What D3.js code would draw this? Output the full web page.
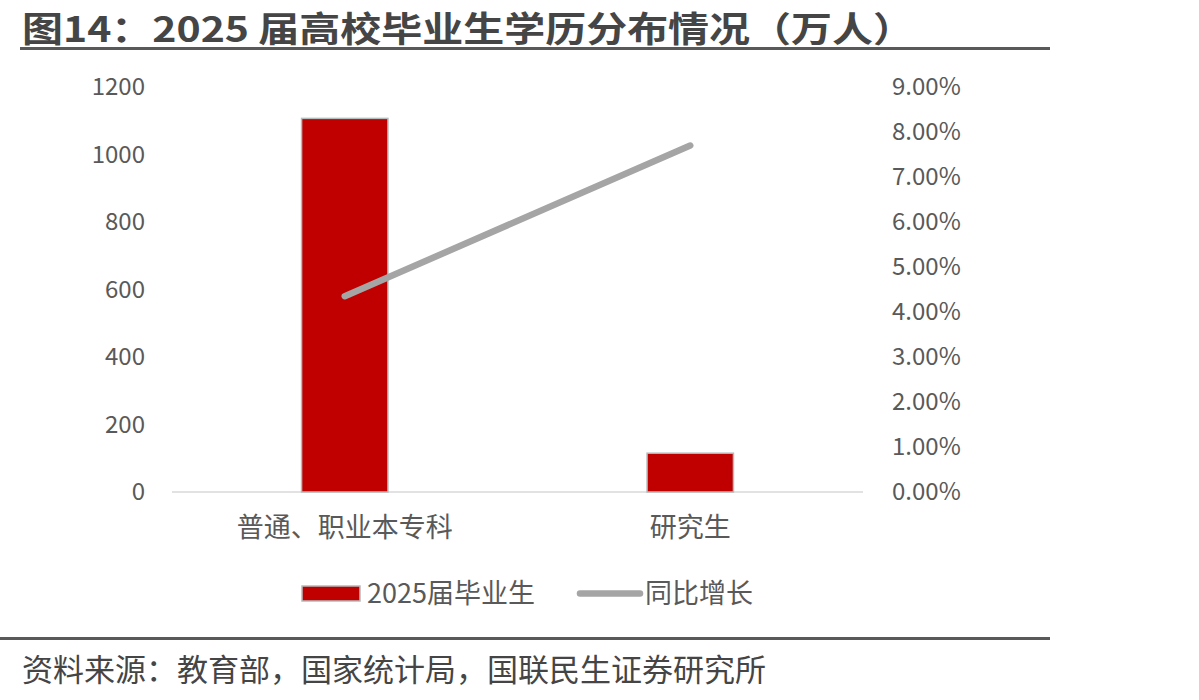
<!DOCTYPE html>
<html>
<head>
<meta charset="utf-8">
<script src="https://cdn.jsdelivr.net/npm/d3@7"></script>
<style>
  body { margin: 0; background: #fff; }
  svg { display: block; font-family: "Noto Sans CJK SC", "Noto Sans", sans-serif; }
</style>
</head>
<body>
<svg id="chart" width="1199" height="700"></svg>
<script>
const categories = ['普通、职业本专科', '研究生'];
const graduates = [1107, 115];
const growth = [0.0435, 0.077];
const leftTicks = [0, 200, 400, 600, 800, 1000, 1200];
const rightTicks = [0, 0.01, 0.02, 0.03, 0.04, 0.05, 0.06, 0.07, 0.08, 0.09];
const barName = '2025届毕业生';
const lineName = '同比增长';
const title = '图14：2025 届高校毕业生学历分布情况（万人）';
const source = '资料来源：教育部，国家统计局，国联民生证券研究所';

const svg = d3.select('#chart');
const textColor = '#595959';

// title + rules
svg.append('text')
  .attr('x', 22).attr('y', 42)
  .attr('font-size', 35).attr('font-weight', 'bold')
  .attr('fill', '#454545')
  .attr('textLength', 892)
  .attr('lengthAdjust', 'spacingAndGlyphs')
  .text(title);

svg.append('line')
  .attr('x1', 20).attr('x2', 1050).attr('y1', 48.5).attr('y2', 48.5)
  .attr('stroke', '#595959').attr('stroke-width', 3);

svg.append('line')
  .attr('x1', 0).attr('x2', 1050).attr('y1', 638.5).attr('y2', 638.5)
  .attr('stroke', '#595959').attr('stroke-width', 3);

svg.append('text')
  .attr('x', 22).attr('y', 681)
  .attr('font-size', 31).attr('fill', '#454545')
  .text(source);

// scales
const x = d3.scaleBand()
  .domain(categories)
  .range([172, 863])
  .paddingInner(0.75)
  .paddingOuter(0.375);

const yL = d3.scaleLinear().domain([0, 1200]).range([492, 87]);
const yR = d3.scaleLinear().domain([0, 0.09]).range([492, 87]);

// baseline
svg.append('line')
  .attr('x1', 172).attr('x2', 863)
  .attr('y1', yL(0)).attr('y2', yL(0))
  .attr('stroke', '#d9d9d9').attr('stroke-width', 1.5);

// axes
const axL = svg.append('g')
  .attr('transform', 'translate(145,0)')
  .call(d3.axisLeft(yL).tickValues(leftTicks).tickSize(0).tickPadding(0).tickFormat(d3.format('d')));

const axR = svg.append('g')
  .attr('transform', 'translate(892,0)')
  .call(d3.axisRight(yR).tickValues(rightTicks).tickSize(0).tickPadding(0).tickFormat(d3.format('.2%')));

[axL, axR].forEach(g => {
  g.select('.domain').remove();
  g.selectAll('text')
    .attr('font-size', 24)
    .attr('fill', textColor)
    .attr('font-family', '"Noto Sans CJK SC", sans-serif');
});

// bars
svg.append('g')
  .selectAll('rect')
  .data(categories)
  .join('rect')
  .attr('x', d => x(d))
  .attr('width', x.bandwidth())
  .attr('y', (d, i) => yL(graduates[i]))
  .attr('height', (d, i) => yL(0) - yL(graduates[i]))
  .attr('fill', '#c00000')
  .attr('stroke', '#b4bcbc')
  .attr('stroke-width', 1.5);

// line
const line = d3.line()
  .x(d => x(d.c) + x.bandwidth() / 2)
  .y(d => yR(d.v));

svg.append('path')
  .datum(categories.map((c, i) => ({ c, v: growth[i] })))
  .attr('d', line)
  .attr('fill', 'none')
  .attr('stroke', '#a5a5a5')
  .attr('stroke-width', 6.5)
  .attr('stroke-linecap', 'round');

// category labels
svg.append('g')
  .selectAll('text')
  .data(categories)
  .join('text')
  .attr('x', d => x(d) + x.bandwidth() / 2)
  .attr('y', 537)
  .attr('text-anchor', 'middle')
  .attr('font-size', 27)
  .attr('fill', textColor)
  .text(d => d);

// legend
const lg = svg.append('g');
lg.append('rect')
  .attr('x', 302).attr('y', 586).attr('width', 58).attr('height', 15)
  .attr('fill', '#c00000').attr('stroke', '#b4bcbc').attr('stroke-width', 1.5);
lg.append('text')
  .attr('x', 367).attr('y', 603)
  .attr('font-size', 27).attr('fill', textColor)
  .text(barName);
lg.append('line')
  .attr('x1', 580).attr('x2', 640).attr('y1', 593.5).attr('y2', 593.5)
  .attr('stroke', '#a5a5a5').attr('stroke-width', 6.5).attr('stroke-linecap', 'round');
lg.append('text')
  .attr('x', 645).attr('y', 603)
  .attr('font-size', 27).attr('fill', textColor)
  .text(lineName);
</script>
</body>
</html>
